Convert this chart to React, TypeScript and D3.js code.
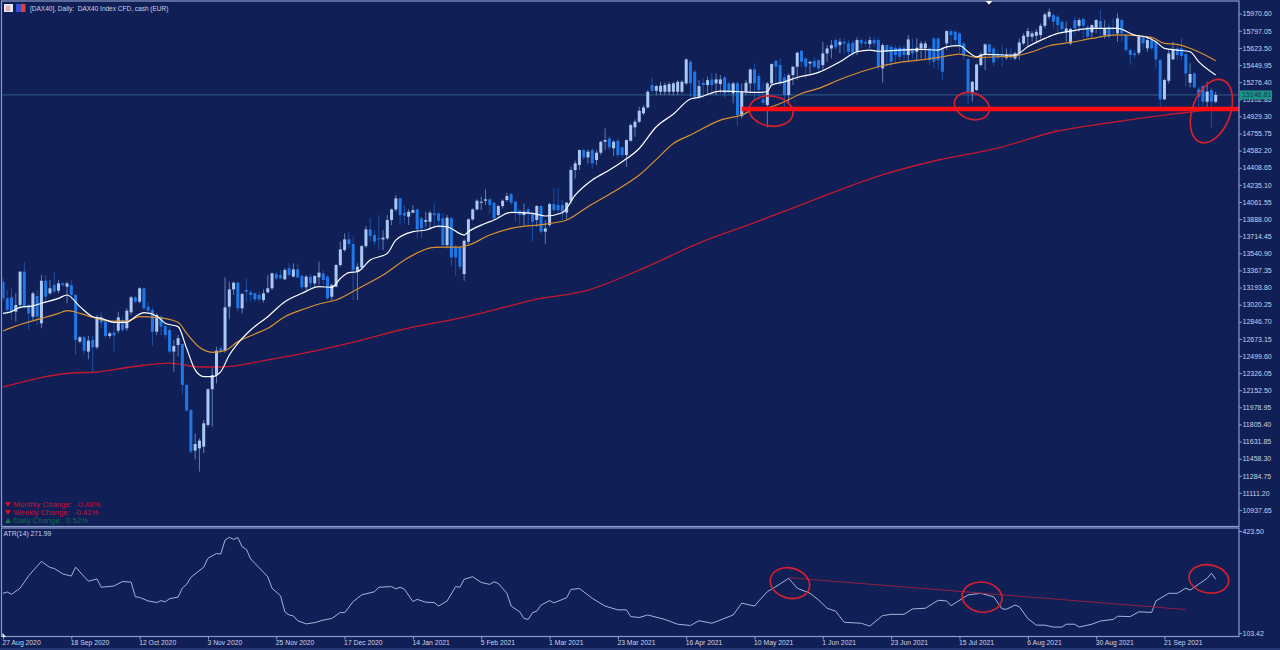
import { useRef, useEffect } from 'react';
import * as d3 from 'd3';

const opens = [
    13253,13084,13094,12949,13017,13355,13017,12898,13108,12831,
    13263,13135,13219,13162,13236,13202,13219,13118,12645,12689,
    12544,12662,12588,12898,12848,12702,12736,12756,12865,12780,
    12942,13094,13050,13186,13000,12966,12746,12898,12804,12763,
    12544,12611,12621,12206,11952,11540,11563,11580,11800,12162,
    12307,12577,12554,13000,13175,13243,12983,13169,13145,13135,
    13118,13067,13145,13186,13331,13321,13277,13389,13304,13378,
    13311,13196,13304,13236,13297,13337,13303,13100,13202,13422,
    13574,13682,13635,13354,13398,13614,13783,13726,13692,13682,
    13692,13878,13986,14098,13952,13912,13952,13986,13895,13861,
    13861,13946,13946,13895,13624,13895,13608,13601,13330,13658,
    13885,13986,14054,14074,14088,14054,13929,14020,14081,14142,
    14064,13973,13929,13986,13946,13878,14020,13760,13827,14040,
    14030,14030,13952,14074,14385,14436,14588,14513,14588,14487,
    14561,14672,14706,14605,14682,14615,14537,14682,14818,14875,
    14960,15020,15247,15189,15179,15179,15179,15179,15179,15179,
    15264,15483,15382,15128,15270,15247,15304,15264,15257,15324,
    15264,15162,15264,14932,15179,15264,15405,15338,15101,15044,
    15264,15493,15449,15324,15145,15348,15433,15595,15517,15466,
    15493,15500,15449,15568,15618,15703,15652,15686,15669,15676,
    15585,15703,15686,15662,15703,15703,15416,15652,15635,15625,
    15625,15625,15551,15618,15585,15618,15618,15618,15720,15720,
    15618,15669,15794,15787,15771,15669,15510,15172,15196,15450,
    15558,15659,15618,15558,15551,15524,15551,15517,15568,15669,
    15737,15737,15747,15754,15848,15940,15957,15940,15889,15781,
    15669,15906,15848,15916,15838,15781,15828,15896,15754,15838,
    15828,15771,15906,15754,15602,15568,15575,15737,15619,15703,
    15686,15501,15102,15291,15507,15619,15619,15561,15271,15365,
    15203,15237,15078,15196,15078,
];

const highs = [
    13290,13170,13186,13135,13355,13456,13034,13152,13169,13321,
    13321,13270,13355,13270,13253,13253,13270,13135,12702,12702,
    12702,12702,12915,12949,12865,12746,12848,12949,12898,12983,
    13108,13108,13196,13196,13050,12990,12932,12915,12831,12797,
    12662,12712,12628,12222,11959,11715,11665,11851,12172,12375,
    12594,12601,13297,13253,13253,13253,13142,13287,13169,13142,
    13152,13175,13321,13345,13355,13372,13389,13439,13439,13439,
    13321,13321,13331,13321,13456,13371,13320,13236,13432,13658,
    13743,13760,13709,13439,13624,13817,13905,13777,13929,13777,
    13929,13996,14132,14108,14030,13986,14030,13996,13912,13962,
    13973,14047,13962,13946,13929,13912,13624,13608,13682,13895,
    13996,14088,14115,14189,14098,14064,14030,14088,14155,14155,
    14074,13986,14047,14013,13962,14030,14030,13878,14054,14199,
    14199,14081,14064,14420,14480,14595,14605,14595,14605,14588,
    14682,14807,14723,14689,14706,14628,14696,14858,14899,15027,
    15044,15196,15325,15247,15280,15270,15280,15280,15300,15300,
    15517,15500,15400,15297,15314,15331,15365,15365,15348,15338,
    15280,15280,15280,15264,15297,15416,15466,15365,15280,15280,
    15466,15500,15517,15365,15365,15439,15585,15602,15534,15493,
    15534,15517,15686,15652,15703,15720,15720,15720,15703,15700,
    15730,15720,15710,15736,15736,15736,15669,15659,15659,15652,
    15652,15652,15754,15720,15720,15693,15693,15635,15727,15727,
    15635,15804,15814,15804,15787,15686,15524,15287,15466,15585,
    15669,15669,15635,15602,15659,15618,15618,15585,15720,15771,
    15828,15794,15814,15872,15984,16024,15974,15957,15906,15889,
    15828,15940,15929,15929,15855,15862,15916,16007,15906,15872,
    15923,15974,15923,15771,15619,15602,15754,15754,15737,15737,
    15703,15517,15315,15602,15686,15670,15720,15585,15467,15382,
    15230,15247,15281,15223,15180,
];

const lows = [
    13050,12932,12865,12848,12983,12983,12763,12865,12814,12780,
    13050,13118,13135,13135,13202,13034,13067,12510,12628,12510,
    12466,12341,12567,12780,12679,12679,12544,12729,12746,12756,
    12915,13034,13034,12966,12939,12601,12712,12712,12679,12527,
    12341,12493,12104,11935,11513,11452,11327,11513,11783,11783,
    12222,12527,12533,12871,13118,12949,12932,13050,13050,13050,
    13050,13040,13135,13169,13270,13277,13270,13304,13297,13287,
    13175,13169,13186,13202,13219,13219,13067,13067,13195,13405,
    13557,13591,13067,13067,13371,13591,13658,13624,13574,13574,
    13675,13827,13962,13827,13844,13827,13946,13692,13692,13810,
    13777,13810,13793,13608,13591,13405,13310,13371,13263,13635,
    13871,13973,13979,14030,13946,13878,13912,13996,14064,14030,
    13861,13827,13827,13827,13658,13810,13736,13635,13810,13962,
    13946,13878,13878,14040,14300,14385,14486,14453,14402,14436,
    14537,14588,14588,14527,14513,14513,14419,14672,14723,14858,
    14943,15010,15169,15145,15145,15145,15145,15145,15145,15162,
    15247,15128,15090,15111,15111,15145,15145,15145,15162,15111,
    15145,15061,14831,14909,15145,15162,15095,15095,15044,14817,
    15247,15264,15237,14976,15061,15247,15297,15433,15314,15365,
    15416,15382,15399,15483,15517,15602,15568,15568,15551,15534,
    15551,15618,15635,15618,15635,15399,15274,15433,15433,15466,
    15500,15483,15483,15517,15500,15517,15517,15450,15416,15399,
    15297,15602,15652,15635,15568,15500,15051,15078,15186,15433,
    15399,15534,15433,15500,15433,15500,15500,15500,15500,15652,
    15635,15686,15669,15720,15821,15916,15821,15781,15788,15686,
    15652,15754,15788,15720,15720,15727,15771,15737,15720,15720,
    15754,15686,15686,15585,15450,15517,15551,15602,15585,15602,
    15416,15027,15095,15264,15500,15500,15500,15230,15223,15213,
    15027,15010,14994,14808,15061,
];

const closes = [
    13084,12966,12949,13017,13355,13000,12932,13135,12898,13263,
    13101,13186,13152,13236,13219,13236,13118,12662,12689,12554,
    12655,12588,12892,12838,12702,12729,12709,12892,12763,12959,
    13094,13050,13186,12983,12959,12746,12915,12797,12712,12544,
    12601,12679,12206,11945,11530,11607,11641,11817,12162,12307,
    12554,12544,12993,13175,13243,12983,13128,13152,13118,13074,
    13074,13135,13186,13338,13287,13287,13372,13321,13378,13297,
    13196,13304,13236,13311,13345,13270,13084,13219,13422,13581,
    13682,13635,13371,13405,13614,13783,13716,13658,13682,13699,
    13878,13986,14098,13929,13922,13962,13979,13783,13793,13878,
    13952,13929,13871,13624,13902,13499,13499,13405,13668,13885,
    13986,14074,14064,14088,14030,13895,14020,14074,14121,14054,
    13962,13929,13962,13946,13861,14020,13760,13793,14040,13979,
    13979,13952,14054,14385,14453,14588,14513,14571,14453,14561,
    14672,14689,14615,14672,14537,14537,14689,14841,14875,14987,
    15020,15179,15189,15237,15240,15247,15257,15264,15280,15280,
    15507,15264,15128,15237,15247,15297,15247,15304,15304,15162,
    15179,15264,14943,15179,15270,15405,15264,15196,15068,15264,
    15460,15433,15264,15145,15348,15433,15575,15483,15433,15483,
    15433,15416,15568,15618,15652,15629,15686,15669,15585,15568,
    15703,15669,15669,15703,15669,15433,15652,15585,15483,15551,
    15534,15551,15710,15568,15625,15669,15669,15500,15483,15500,
    15382,15794,15754,15703,15652,15544,15172,15281,15456,15558,
    15659,15578,15477,15524,15531,15551,15524,15568,15679,15747,
    15794,15771,15787,15848,15963,15990,15889,15855,15815,15821,
    15815,15821,15906,15848,15737,15855,15906,15821,15821,15737,
    15815,15923,15771,15602,15551,15551,15737,15670,15703,15619,
    15507,15102,15298,15568,15609,15551,15541,15365,15359,15223,
    15129,15078,15180,15078,15146.81,
];

// moving averages at the bars where they bend
const whiteBars = [0,2,4,7,9,13,15,18,21,23,26,29,31,33,36,38,41,43,45,47,49,51,53,55,58,62,66,70,74,77,79,81,83,86,90,92,96,99,102,104,108,109,112,115,119,124,127,131,134,138,142,145,149,153,157,161,163,168,173,177,179,180,183,186,191,196,200,203,205,210,215,219,221,224,226,228,230,237,240,244,247,250,255,261,265,268,270,272,275,278,280,284];
const whiteValues = [12932,12949,12993,13007,13034,13084,13118,13000,12898,12881,12841,12841,12898,12939,12905,12831,12797,12577,12358,12290,12290,12341,12510,12628,12763,12898,13050,13135,13203,13195,13286,13344,13354,13472,13540,13675,13760,13777,13817,13810,13726,13760,13827,13878,13956,13946,13919,13952,14131,14284,14385,14469,14604,14824,14953,15105,15122,15186,15179,15172,15179,15247,15280,15324,15375,15483,15585,15602,15590,15602,15608,15602,15635,15646,15585,15534,15558,15551,15635,15720,15771,15794,15821,15821,15754,15730,15686,15619,15602,15585,15484,15349];

const orangeBars = [0,2,5,9,13,15,18,21,25,29,32,36,41,43,46,49,52,55,59,62,66,71,74,78,84,89,95,101,107,109,114,119,127,132,137,143,149,153,157,161,168,173,176,179,183,187,191,196,201,205,210,216,220,224,228,233,237,241,245,250,255,261,269,272,275,279,284];
const orangeValues = [12753,12787,12831,12881,12932,12959,12932,12892,12854,12854,12898,12892,12841,12729,12587,12537,12554,12645,12723,12780,12898,12983,13027,13067,13202,13320,13499,13601,13604,13624,13726,13793,13837,13878,14013,14165,14334,14493,14655,14740,14892,14943,15003,15017,15078,15162,15213,15304,15382,15433,15477,15507,15534,15561,15527,15534,15541,15585,15646,15679,15720,15755,15730,15670,15659,15602,15494];

const redBars = [0,16,22,30,39,46,51,62,74,84,93,107,114,124,137,149,163,177,191,205,219,233,247,257,265,272,280,284];
const redValues = [12185,12327,12337,12388,12428,12388,12388,12459,12560,12661,12763,12884,12955,13067,13168,13371,13645,13868,14101,14324,14487,14608,14781,14852,14902,14943,14983,15004];

const atrBars = [0,1,2,4,6,7,9,11,12,14,16,17,20,22,23,26,28,30,31,32,34,36,37,38,39,41,42,43,44,47,48,50,51,52,53,54,55,56,57,58,59,62,63,65,66,67,68,69,71,73,75,77,79,80,82,84,87,88,91,92,93,94,96,97,99,101,102,104,106,107,108,110,112,114,115,116,118,119,121,122,123,124,125,126,128,129,132,133,135,138,141,144,146,147,149,151,155,158,161,163,166,167,171,173,176,177,179,181,184,186,189,191,193,195,197,201,203,206,208,211,213,216,219,221,222,226,229,232,234,235,237,238,240,242,244,246,248,249,251,252,255,257,260,261,264,266,269,270,273,275,277,278,282,283,284];
const atrValues = [228,232,225,244,283,298,328,309,306,289,282,310,266,273,247,251,265,263,217,215,204,199,205,201,211,216,244,256,278,310,338,353,351,395,404,397,403,374,366,336,322,280,244,220,170,160,157,142,132,136,144,149,168,167,202,223,233,247,249,242,247,241,202,209,200,199,188,204,249,247,272,280,262,256,264,259,228,188,170,149,146,167,172,191,205,198,214,240,243,212,188,176,176,155,152,160,146,131,127,142,134,139,160,197,188,204,233,249,275,244,228,207,181,172,137,134,125,158,162,162,179,181,206,204,189,223,228,217,179,178,191,186,149,128,128,122,122,131,131,122,131,141,146,156,155,170,168,204,228,228,244,238,275,291,271.99];

const trendBars = [184, 277];
const trendValues = [277, 177];

const supportLevel = 15004;
const supportStartBar = 173;
const lastPrice = 15146.81;

const priceTicks = [15970.60,15797.05,15623.50,15449.95,15276.40,15102.85,14929.30,14755.75,14582.20,14408.65,14235.10,14061.55,13888.00,13714.45,13540.90,13367.35,13193.80,13020.25,12846.70,12673.15,12499.60,12326.05,12152.50,11978.95,11805.40,11631.85,11458.30,11284.75,11111.20,10937.65];
const atrTicks = [423.50, 103.42];
const dateBars = [0,16,32,48,64,80,96,112,128,144,160,176,192,208,224,240,256,272];
const dateLabels = ['27 Aug 2020','18 Sep 2020','12 Oct 2020','3 Nov 2020','25 Nov 2020','17 Dec 2020','14 Jan 2021','5 Feb 2021','1 Mar 2021','23 Mar 2021','16 Apr 2021','10 May 2021','1 Jun 2021','23 Jun 2021','15 Jul 2021','6 Aug 2021','30 Aug 2021','21 Sep 2021'];

const priceCircles = [[179.9, 14983], [226.9, 15034], [283, 14983]];
const atrCircles = [[184.3, 260], [229.3, 216], [282.4, 273]];

const changeLabels = ['Monthly Change:  -0.48%', 'Weekly Change:  -0.41%', 'Daily Change:  0.52%'];
const changeUp = [false, false, true];

const FONT = '"Liberation Sans", Arial, sans-serif';
const BG = '#111f57';
const FRAME = '#8c9ccb';
const TEXT = '#c9d2e6';

export default function App() {
    const ref = useRef<SVGSVGElement>(null);

    useEffect(() => {
        if (!ref.current) return;

        const svg = d3.select(ref.current);
        svg.selectAll('*').remove();

        const left = 2.5;
        const right = 1239;
        const mainBottom = 526.5;
        const atrTop = 528;
        const atrBottom = 636.5;

        const x = d3.scaleLinear().domain([0, 284]).range([3, 1215.7]);
        const y = d3.scaleLinear().domain([15970.6, 10937.65]).range([13.7, 510]);
        const yAtr = d3.scaleLinear().domain([423.5, 103.42]).range([531, 633]);

        svg.append('rect').attr('width', 1280).attr('height', 650).attr('fill', BG);

        const defs = svg.append('defs');
        defs.append('clipPath').attr('id', 'main-clip').append('rect')
            .attr('x', left).attr('y', 1).attr('width', right - left).attr('height', mainBottom - 1);

        const main = svg.append('g').attr('clip-path', 'url(#main-clip)');

        // last price line sits under everything
        main.append('line')
            .attr('x1', left).attr('x2', right)
            .attr('y1', y(lastPrice)).attr('y2', y(lastPrice))
            .attr('stroke', '#2f5f8a').attr('stroke-width', 1);

        const drawLine = (g: any, bars: number[], values: number[], scale: any, color: string, width: number, curve: any) => {
            const line = d3.line<number>()
                .x(d => x(bars[d]))
                .y(d => scale(values[d]))
                .curve(curve);
            g.append('path')
                .datum(d3.range(bars.length))
                .attr('d', line)
                .attr('fill', 'none')
                .attr('stroke', color)
                .attr('stroke-width', width)
                .attr('stroke-linejoin', 'round');
        };

        drawLine(main, redBars, redValues, y, '#c0182f', 1.3, d3.curveMonotoneX);

        // candles
        const bars = d3.range(opens.length);
        const upColor = '#aac8f2';
        const downColor = '#1f78e6';
        const isUp = (i: number) => closes[i] >= opens[i];

        main.append('g').selectAll('line')
            .data(bars)
            .join('line')
            .attr('x1', d => x(d)).attr('x2', d => x(d))
            .attr('y1', d => y(highs[d])).attr('y2', d => y(lows[d]))
            .attr('stroke', d => isUp(d) ? upColor : downColor)
            .attr('stroke-opacity', 0.55)
            .attr('stroke-width', 1);

        main.append('g').selectAll('rect')
            .data(bars)
            .join('rect')
            .attr('x', d => x(d) - 1.5)
            .attr('width', 3)
            .attr('y', d => y(Math.max(opens[d], closes[d])))
            .attr('height', d => Math.max(1, Math.abs(y(opens[d]) - y(closes[d]))))
            .attr('fill', d => isUp(d) ? upColor : downColor);

        drawLine(main, orangeBars, orangeValues, y, '#d8912f', 1.2, d3.curveMonotoneX);
        drawLine(main, whiteBars, whiteValues, y, '#ffffff', 1.2, d3.curveMonotoneX);

        // support level drawn by hand on the chart
        main.append('line')
            .attr('x1', x(supportStartBar)).attr('x2', right)
            .attr('y1', y(supportLevel)).attr('y2', y(supportLevel))
            .attr('stroke', '#ff0d12').attr('stroke-width', 4.5);

        const priceShapes = [[22, 15, 8], [18, 13, 20], [19, 33, 20]];
        main.append('g').selectAll('ellipse')
            .data(priceCircles)
            .join('ellipse')
            .attr('rx', (_, i) => priceShapes[i][0])
            .attr('ry', (_, i) => priceShapes[i][1])
            .attr('transform', (d, i) => `translate(${x(d[0])},${y(d[1])}) rotate(${priceShapes[i][2]})`)
            .attr('fill', 'none')
            .attr('stroke', '#d3202f')
            .attr('stroke-width', 1.7);

        // ATR pane
        const atr = svg.append('g');
        drawLine(atr, atrBars, atrValues, yAtr, '#a5b4d9', 1, d3.curveLinear);
        drawLine(atr, trendBars, trendValues, yAtr, '#8e1f3e', 1, d3.curveLinear);

        const atrShapes = [[20, 15, 15], [20, 15, 8], [20, 14, 10]];
        atr.append('g').selectAll('ellipse')
            .data(atrCircles)
            .join('ellipse')
            .attr('rx', (_, i) => atrShapes[i][0])
            .attr('ry', (_, i) => atrShapes[i][1])
            .attr('transform', (d, i) => `translate(${x(d[0])},${yAtr(d[1])}) rotate(${atrShapes[i][2]})`)
            .attr('fill', 'none')
            .attr('stroke', '#d3202f')
            .attr('stroke-width', 1.7);

        // frame
        const frame = svg.append('g').attr('stroke', FRAME).attr('fill', 'none');
        frame.append('rect').attr('x', 1.5).attr('y', 1).attr('width', right - 1.5).attr('height', mainBottom - 1).attr('stroke-width', 1.2);
        frame.append('rect').attr('x', 1.5).attr('y', atrTop).attr('width', right - 1.5).attr('height', atrBottom - atrTop).attr('stroke-width', 1.2);
        svg.append('line').attr('x1', 0).attr('x2', 1280).attr('y1', 649).attr('y2', 649).attr('stroke', '#3c5096').attr('stroke-width', 1);

        // axes
        const styleAxis = (g: any) => {
            g.select('.domain').remove();
            g.selectAll('line').attr('stroke', FRAME);
            g.selectAll('text')
                .attr('fill', TEXT)
                .style('font-family', FONT)
                .style('font-size', '7px');
        };

        svg.append('g')
            .attr('transform', `translate(${right},0)`)
            .call(d3.axisRight(y).tickValues(priceTicks).tickFormat(d3.format('.2f') as any).tickSize(3).tickPadding(0.5))
            .call(styleAxis);

        svg.append('g')
            .attr('transform', `translate(${right},0)`)
            .call(d3.axisRight(yAtr).tickValues(atrTicks).tickFormat(d3.format('.2f') as any).tickSize(3).tickPadding(0.5))
            .call(styleAxis);

        const dateAxis = svg.append('g')
            .attr('transform', `translate(0,${atrBottom})`)
            .call(d3.axisBottom(x).tickValues(dateBars).tickFormat((_, i) => dateLabels[i]).tickSize(3).tickPadding(0.5))
            .call(styleAxis);
        dateAxis.selectAll('text')
            .attr('text-anchor', 'start')
            .attr('dx', -1)
            .style('font-size', '6.8px');

        // last price tag
        svg.append('rect')
            .attr('x', right + 1).attr('y', y(lastPrice) - 4.5)
            .attr('width', 32).attr('height', 9)
            .attr('fill', '#1c9384');
        svg.append('text')
            .attr('x', right + 3).attr('y', y(lastPrice) + 2.5)
            .attr('fill', '#0f3f55')
            .style('font-family', FONT).style('font-size', '7px')
            .text(d3.format('.2f')(lastPrice));

        // header
        svg.append('rect').attr('x', 4).attr('y', 4).attr('width', 9).attr('height', 8).attr('fill', '#dfe5f6');
        svg.append('rect').attr('x', 6).attr('y', 6).attr('width', 4).attr('height', 5).attr('fill', '#e9a9a0');
        svg.append('rect').attr('x', 16).attr('y', 4).attr('width', 5).attr('height', 8).attr('fill', '#3550d8');
        svg.append('rect').attr('x', 21).attr('y', 4).attr('width', 4.5).attr('height', 8).attr('fill', '#e0403a');
        svg.append('text')
            .attr('x', 30).attr('y', 10.7)
            .attr('fill', TEXT)
            .style('font-family', FONT).style('font-size', '6.5px')
            .style('white-space', 'pre')
            .text('[DAX40], Daily:  DAX40 Index CFD, cash (EUR)');

        svg.append('path').attr('d', 'M985.5,1 L992.5,1 L989,4.5 Z').attr('fill', '#ffffff');
        svg.append('path').attr('d', 'M2.5,633 L2.5,637 L6,637 Z').attr('fill', '#ffffff');

        svg.append('text')
            .attr('x', 3.5).attr('y', 535.5)
            .attr('fill', TEXT)
            .style('font-family', FONT).style('font-size', '6.8px')
            .text('ATR(14) 271.99');

        // change readout, bottom left
        const readout = svg.append('g')
            .selectAll('g')
            .data(changeLabels)
            .join('g')
            .attr('transform', (_, i) => `translate(5,${504.5 + i * 8})`);
        readout.append('path')
            .attr('d', (_, i) => changeUp[i] ? 'M0,2.5 L3,-2.5 L6,2.5 Z' : 'M0,-2.5 L6,-2.5 L3,2.5 Z')
            .attr('fill', (_, i) => changeUp[i] ? '#0f7a42' : '#d0102a');
        readout.append('text')
            .attr('x', 8.5).attr('y', 2.8)
            .attr('fill', (_, i) => changeUp[i] ? '#0f6f3c' : '#c8102e')
            .style('font-family', FONT).style('font-size', '7.7px')
            .style('white-space', 'pre')
            .text(d => d);
    }, []);

    return (
        <svg ref={ref} width={1280} height={650} style={{ position: 'absolute', top: 0, left: 0, display: 'block' }} />
    );
}
